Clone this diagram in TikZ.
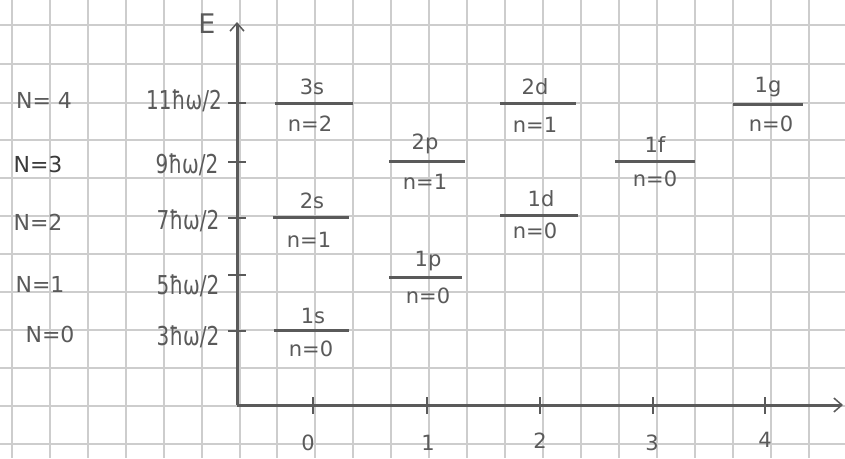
\documentclass[tikz,border=0pt]{standalone}
\usepackage{fontspec}
\setmainfont{DejaVu Sans}
\usetikzlibrary{arrows.meta}
\definecolor{gridc}{HTML}{CDCDCD}
\definecolor{ink}{HTML}{5A5A5A}
\definecolor{inkd}{HTML}{3A3A3A}
\tikzset{
  lvl/.style={draw=ink, line width=3pt},
  lab/.style={text=ink, font=\fontsize{21}{23}\selectfont, inner sep=0pt},
  side/.style={text=ink, font=\fontsize{22}{24}\selectfont, inner sep=0pt},
  eng/.style={text=ink, font=\fontsize{20}{22}\selectfont, inner sep=0pt, yscale=1.3},
  tick/.style={draw=ink, line width=1.8pt},
  ax/.style={draw=ink, line width=3pt}
}
\begin{document}
\begin{tikzpicture}[x=1pt,y=-1pt]
\useasboundingbox (0,0) rectangle (845,458);
\fill[white] (0,0) rectangle (845,458);
% grid paper
\foreach \gx in {12,50,88,126,164,202,240,277,315,353,391,429,467,505,543,581,619,657,695,733,771,809} {
  \draw[gridc, line width=1.3pt] (\gx,0) -- (\gx,458);
}
\foreach \gy in {25,64,103,140,178,216,254,292,330,368,406,444} {
  \draw[gridc, line width=1.3pt] (0,\gy) -- (845,\gy);
}
% axes
\coordinate (O) at (237,405);
\coordinate (Etop) at (237,22);
\coordinate (Xend) at (843,405);
\draw[ax, -{Straight Barb[length=8pt,width=14pt,line width=1.5pt]}] (O) -- (Etop);
\draw[ax, -{Straight Barb[length=8pt,width=14pt,line width=1.5pt]}] (O) -- (Xend);
\node[text=ink, font=\fontsize{27}{29}\selectfont, inner sep=0pt] (E) at (207,24) {E};
% y ticks
\foreach \yy in {103,162,218,275,331} { \draw[tick] (228,\yy) -- (246,\yy); }
% x ticks
\foreach \xx in {313,427,540,653,765} { \draw[tick] (\xx,397) -- (\xx,414); }
\node[lab] (x0) at (308,443) {0};
\node[lab] (x1) at (428,443) {1};
\node[lab] (x2) at (540,441) {2};
\node[lab] (x3) at (652,443) {3};
\node[lab] (x4) at (765,440) {4};
% left labels
\node[side] (N4) at (44,100) {N= 4};
\node[side, text=inkd] (N3) at (38,164) {N=3};
\node[side] (N2) at (38,222) {N=2};
\node[side] (N1) at (40,284) {N=1};
\node[side] (N0) at (50,334) {N=0};
\node[eng] (e11) at (184,101) {11ħω/2};
\node[eng] (e9) at (187,165) {9ħω/2};
\node[eng] (e7) at (188,221) {7ħω/2};
\node[eng] (e5) at (188,286) {5ħω/2};
\node[eng] (e3) at (188,337) {3ħω/2};
% levels
\draw[lvl] (274,330) -- (349,330);
\node[lab] (s1) at (313,316) {1s};
\node[lab] (s1n) at (311,349) {n=0};
\draw[lvl] (273,217) -- (349,217);
\node[lab] (s2) at (312,201) {2s};
\node[lab] (s2n) at (309,240) {n=1};
\draw[lvl] (275,103) -- (353,103);
\node[lab] (s3) at (312,87) {3s};
\node[lab] (s3n) at (310,124) {n=2};
\draw[lvl] (389,277) -- (462,277);
\node[lab] (p1) at (428,261) {1p};
\node[lab] (p1n) at (428,296) {n=0};
\draw[lvl] (389,161) -- (465,161);
\node[lab] (p2) at (425,144) {2p};
\node[lab] (p2n) at (425,182) {n=1};
\draw[lvl] (500,215) -- (578,215);
\node[lab] (d1) at (541,199) {1d};
\node[lab] (d1n) at (535,231) {n=0};
\draw[lvl] (500,103) -- (576,103);
\node[lab] (d2) at (535,87) {2d};
\node[lab] (d2n) at (535,125) {n=1};
\draw[lvl] (615,161) -- (695,161);
\node[lab] (f1) at (655,145) {1f};
\node[lab] (f1n) at (655,179) {n=0};
\draw[lvl] (733,104) -- (803,104);
\node[lab] (g1) at (768,87) {1g};
\node[lab] (g1n) at (771,124) {n=0};
\end{tikzpicture}
\end{document}
